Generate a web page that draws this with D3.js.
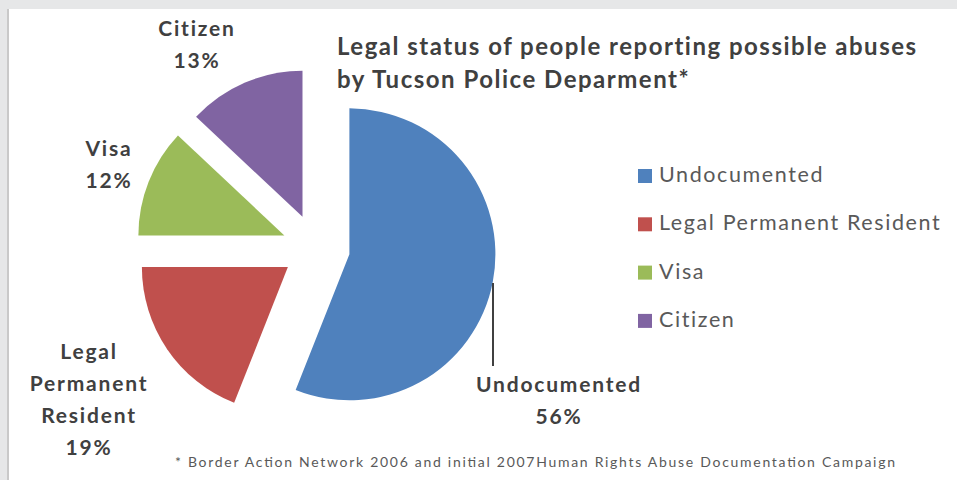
<!DOCTYPE html>
<html>
<head>
<meta charset="utf-8">
<script src="https://cdn.jsdelivr.net/npm/d3@7"></script>
<style>
  html, body { margin: 0; padding: 0; background: #e6e7e8; }
  svg { display: block; }
</style>
</head>
<body>
<script>
const categories = ["Undocumented", "Legal Permanent Resident", "Visa", "Citizen"];
const values = [56, 19, 12, 13];
const labelLines = [["Undocumented", "56%"], ["Legal", "Permanent", "Resident", "19%"], ["Visa", "12%"], ["Citizen", "13%"]];
const colors = ["#4f81bd", "#c0504d", "#9bbb59", "#8064a2"];
const titleLines = ["Legal status of people reporting possible abuses", "by Tucson  Police Deparment*"];
const footnote = "*  Border Action Network 2006  and initial 2007Human Rights Abuse Documentation Campaign";

const W = 957, H = 480;
const svg = d3.select("body").append("svg").attr("width", W).attr("height", H);

// chart area
svg.append("rect").attr("x", 0).attr("y", 0).attr("width", W).attr("height", H).attr("fill", "#e6e7e8");
svg.append("rect").attr("x", 8).attr("y", 9).attr("width", W - 8).attr("height", H - 9).attr("fill", "#ffffff");
svg.append("line").attr("x1", 8).attr("x2", 8).attr("y1", 9).attr("y2", H).attr("stroke", "#c9c9c9").attr("stroke-width", 2);

const font = "Lato, 'Open Sans', sans-serif";
const cx = 316, cy = 248, R = 146, explode = 34;

const pie = d3.pie().sort(null).value(d => d)(values);
const arc = d3.arc().innerRadius(0).outerRadius(R);

const g = svg.append("g").attr("transform", `translate(${cx},${cy})`);
g.selectAll("path").data(pie).join("path")
  .attr("d", arc)
  .attr("fill", (d, i) => colors[i])
  .attr("transform", d => {
    const m = (d.startAngle + d.endAngle) / 2;
    return `translate(${explode * Math.sin(m)},${-explode * Math.cos(m)})`;
  });

// data labels
const labelPos = [[558, 392], [88, 359], [108, 156], [196, 36]];
const lineH = 32;
labelLines.forEach((lines, i) => {
  const t = svg.append("text")
    .attr("x", labelPos[i][0]).attr("y", labelPos[i][1])
    .attr("text-anchor", "middle")
    .attr("font-family", font).attr("font-size", 21).attr("font-weight", 700)
    .attr("letter-spacing", 1.8)
    .attr("fill", "#404040");
  lines.forEach((l, k) => t.append("tspan").attr("x", labelPos[i][0] + 1).attr("dy", k === 0 ? 0 : lineH).text(l));
});
// leader line for Undocumented
svg.append("line").attr("x1", 493).attr("x2", 493).attr("y1", 283).attr("y2", 366)
  .attr("stroke", "#404040").attr("stroke-width", 2);

// title
titleLines.forEach((l, k) => {
  svg.append("text").attr("x", 337).attr("y", 55 + k * 33)
    .attr("font-family", font).attr("font-size", 24).attr("font-weight", 700)
    .attr("letter-spacing", 1.5)
    .attr("fill", "#404040").text(l);
});

// legend
const lg = svg.append("g");
categories.forEach((c, i) => {
  const y = 182 + i * 48.3;
  lg.append("rect").attr("x", 638).attr("y", y - 13).attr("width", 14).attr("height", 14).attr("fill", colors[i]);
  lg.append("text").attr("x", 659).attr("y", y)
    .attr("font-family", font).attr("font-size", 21.5).attr("letter-spacing", 1.6)
    .attr("fill", "#595959").text(c);
});

// footnote
svg.append("text").attr("x", 175).attr("y", 467)
  .attr("font-family", font).attr("font-size", 14).attr("fill", "#595959")
  .attr("textLength", 720).attr("lengthAdjust", "spacing")
  .text(footnote);
</script>
</body>
</html>
